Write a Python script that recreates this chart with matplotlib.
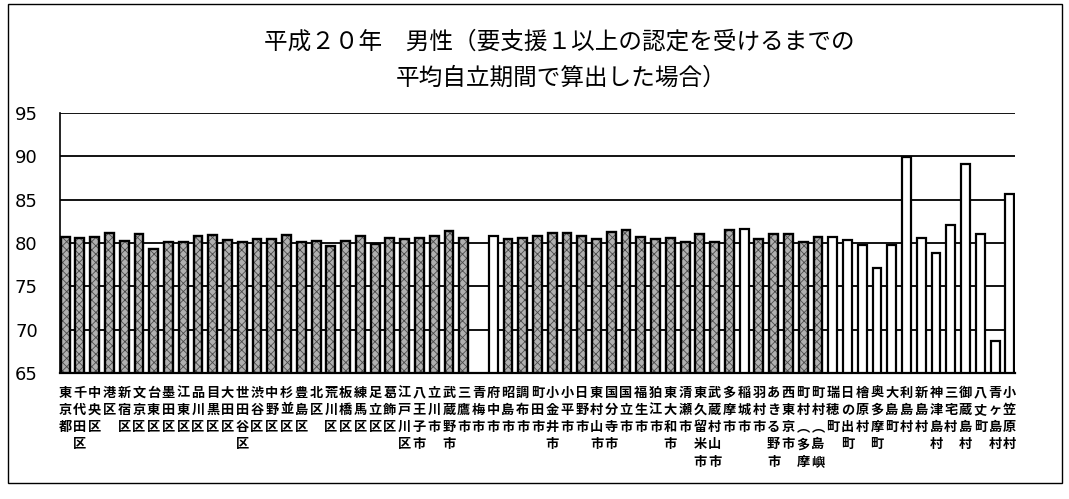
import matplotlib
matplotlib.use("Agg")
import matplotlib.pyplot as plt
import numpy as np
from matplotlib.patches import Rectangle

plt.rcParams['font.family'] = ['Noto Sans CJK JP', 'DejaVu Sans']
plt.rcParams['hatch.linewidth'] = 0.6

# 区市町村名
names = [
    "東京都",
    "千代田区", "中央区", "港区", "新宿区", "文京区", "台東区", "墨田区", "江東区",
    "品川区", "目黒区", "大田区", "世田谷区", "渋谷区", "中野区", "杉並区", "豊島区",
    "北区", "荒川区", "板橋区", "練馬区", "足立区", "葛飾区", "江戸川区",
    "八王子市", "立川市", "武蔵野市", "三鷹市", "青梅市", "府中市", "昭島市", "調布市",
    "町田市", "小金井市", "小平市", "日野市", "東村山市", "国分寺市", "国立市", "福生市",
    "狛江市", "東大和市", "清瀬市", "東久留米市", "武蔵村山市", "多摩市", "稲城市",
    "羽村市", "あきる野市", "西東京市",
    "町村︵多摩", "町村︵島嶼",
    "瑞穂町", "日の出町", "檜原村", "奥多摩町", "大島町", "利島村", "新島村",
    "神津島村", "三宅村", "御蔵島村", "八丈町", "青ヶ島村", "小笠原村",
]

# 平均自立期間（年）; 青梅市は値なし
values = [
    80.75,
    80.6, 80.75, 81.15, 80.2, 81.0, 79.3, 80.1, 80.1,
    80.85, 80.95, 80.3, 80.1, 80.5, 80.5, 80.9, 80.1,
    80.2, 79.6, 80.2, 80.8, 79.9, 80.6, 80.45,
    80.6, 80.8, 81.35, 80.6, np.nan, 80.8, 80.45, 80.6,
    80.8, 81.2, 81.2, 80.8, 80.5, 81.25, 81.45, 80.65,
    80.5, 80.6, 80.1, 81.0, 80.1, 81.5, 81.6,
    80.5, 81.0, 81.0,
    80.1, 80.7,
    80.7, 80.3, 79.8, 77.1, 79.8, 89.9, 80.6,
    78.8, 82.1, 89.1, 81.0, 68.7, 85.7,
]

# 区分: 0=区部・市部・町村計, 1=町村
group = [0] * 52 + [1] * 13
unfilled = ["府中市", "稲城市"]

y_ticks = [65, 70, 75, 80, 85, 90, 95]

title_line1 = "平成２０年　男性（要支援１以上の認定を受けるまでの"
title_line2 = "平均自立期間で算出した場合）"

W, H = 1069, 499
fig = plt.figure(figsize=(W / 100, H / 100), dpi=100)
ax = fig.add_axes([60 / W, 1 - 373 / H, (1015 - 60) / W, (373 - 113) / H])

x = np.arange(len(names))
for xi, v, g, nm in zip(x, values, group, names):
    if np.isnan(v):
        continue
    if g == 1 or nm in unfilled:
        ax.bar(xi, v - 65, bottom=65, width=0.6, facecolor='white',
               edgecolor='black', linewidth=1.6, zorder=3)
    else:
        # stippled grey fill, then a solid black outline on top
        ax.bar(xi, v - 65, bottom=65, width=0.6, facecolor='#b0b0b0',
               edgecolor='#4a4a4a', linewidth=0, hatch='xxxx', zorder=3)
        ax.bar(xi, v - 65, bottom=65, width=0.6, facecolor='none',
               edgecolor='black', linewidth=1.7, zorder=4)

ax.set_ylim(65, 95)
ax.set_xlim(-0.35, len(names) - 0.65)
ax.set_yticks(y_ticks)
ax.set_yticklabels([str(t) for t in y_ticks], fontsize=13, family='DejaVu Sans')
for t in y_ticks[1:]:
    ax.axhline(t, color='black', linewidth=1.3, zorder=1)
ax.tick_params(axis='y', length=0, pad=16)

ax.set_xticks(x)
ax.set_xticklabels(["\n".join(n) for n in names], fontsize=9.5, fontweight='bold',
                   linespacing=1.3, va='top')
ax.tick_params(axis='x', length=0, pad=9)

for s in ['top', 'right']:
    ax.spines[s].set_visible(False)
ax.spines['left'].set_linewidth(1.2)
ax.spines['bottom'].set_linewidth(1.6)

fig.text(559 / W, 1 - 42 / H, title_line1, ha='center', va='center', fontsize=17)
fig.text(561 / W, 1 - 78 / H, title_line2, ha='center', va='center', fontsize=17)

fig.add_artist(Rectangle((8 / W, 1 - 483 / H), (1062 - 8) / W, (483 - 4) / H,
                         transform=fig.transFigure, fill=False,
                         edgecolor='black', linewidth=1.0))

fig.savefig("out.png", dpi=100)
